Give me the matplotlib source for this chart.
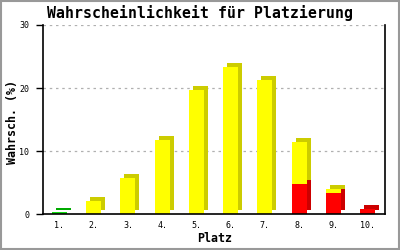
import matplotlib
matplotlib.use("Agg")
import numpy as np
import matplotlib.pyplot as plt
from matplotlib.transforms import ScaledTranslation
from matplotlib.patches import Rectangle

# Data
places = ["1.", "2.", "3.", "4.", "5.", "6.", "7.", "8.", "9.", "10."]
green_vals = [0.4, 0, 0, 0, 0, 0, 0, 0, 0, 0]
yellow_vals = [0, 2.1, 5.8, 11.8, 19.7, 23.4, 21.3, 6.7, 0.6, 0]
red_vals = [0, 0, 0, 0, 0, 0, 0, 4.8, 3.4, 0.9]
y_ticks = [0, 10, 20, 30]

series = [
    (red_vals, "#ff0000", "#cc0000"),
    (yellow_vals, "#ffff00", "#cccc00"),
    (green_vals, "#11dd11", "#00aa00"),
]

mono = "DejaVu Sans Mono"

fig = plt.figure(figsize=(4, 2.5), dpi=100)
ax = fig.add_axes([0.1075, 0.143, 0.855, 0.757])

x = np.arange(1, len(places) + 1)
width = 0.44

# offset for the fake 3D depth (right/up)
depth = ScaledTranslation(4 / 100, 4 / 100, fig.dpi_scale_trans)

bottom = np.zeros(len(places))
for vals, face, side in series:
    vals = np.array(vals, dtype=float)
    mask = vals > 0
    # back copy (darker), shifted
    ax.bar(x[mask], vals[mask], width, bottom=bottom[mask], color=side,
           linewidth=0, transform=ax.transData + depth, zorder=2)
    bottom = bottom + vals

bottom = np.zeros(len(places))
for vals, face, side in series:
    vals = np.array(vals, dtype=float)
    mask = vals > 0
    ax.bar(x[mask], vals[mask], width, bottom=bottom[mask], color=face,
           linewidth=0, zorder=3)
    bottom = bottom + vals

ax.set_xlim(0.52, 10.51)
ax.set_ylim(0, 30)
ax.set_yticks(y_ticks)
ax.set_yticklabels([str(t) for t in y_ticks], family=mono, fontsize=6)
ax.set_xticks(x)
ax.set_xticklabels(places, family=mono, fontsize=6)
ax.tick_params(axis="x", length=0, pad=5)
ax.tick_params(axis="y", direction="out", length=5, width=1, pad=5)

for v in y_ticks[1:]:
    ax.axhline(v, color="#b0b0b0", linestyle=(0, (2, 3)), linewidth=0.9, zorder=1)

ax.spines["top"].set_visible(False)
for s in ["left", "right", "bottom"]:
    ax.spines[s].set_color("black")
    ax.spines[s].set_linewidth(1.2)
ax.spines["bottom"].set_zorder(4)

fig.text(0.5, 0.948, "Wahrscheinlichkeit für Platzierung", ha="center", va="center",
         family=mono, fontweight="bold", fontsize=10.7)
fig.text(0.536, 0.044, "Platz", ha="center", va="center",
         family=mono, fontweight="bold", fontsize=8.4)
fig.text(0.031, 0.51, "Wahrsch. (%)", ha="center", va="center", rotation=90,
         family=mono, fontweight="bold", fontsize=8.4)

# grey frame around the image
fig.patches.append(Rectangle((0.002, 0.004), 0.996, 0.992, transform=fig.transFigure,
                             fill=False, edgecolor="#999999", linewidth=1.5))

fig.savefig("out.png", dpi=100)
